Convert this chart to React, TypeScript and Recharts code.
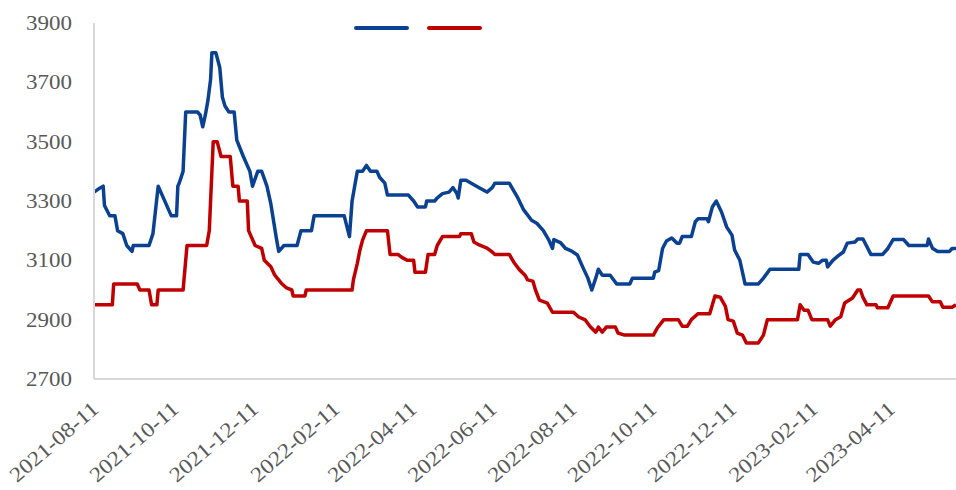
import { Line, LineChart, XAxis, YAxis } from "recharts";

const DAY_MS = 86400000;

const toDay = (date: string) => {
  const [y, m, d] = date.split("-").map(Number);
  return Date.UTC(y, m - 1, d) / DAY_MS;
};

const X_START = "2021-08-11";
const X_END = "2023-05-31";

const X_TICK_LABELS = [
  "2021-08-11",
  "2021-10-11",
  "2021-12-11",
  "2022-02-11",
  "2022-04-11",
  "2022-06-11",
  "2022-08-11",
  "2022-10-11",
  "2022-12-11",
  "2023-02-11",
  "2023-04-11",
];

const Y_TICKS = [2700, 2900, 3100, 3300, 3500, 3700, 3900];

const BLUE_POINTS: [string, number][] = [
  ["2021-08-11", 3330], ["2021-08-16", 3345], ["2021-08-18", 3350], ["2021-08-19", 3285],
  ["2021-08-23", 3250], ["2021-08-27", 3250], ["2021-08-29", 3200], ["2021-09-02", 3190],
  ["2021-09-05", 3150], ["2021-09-09", 3130], ["2021-09-10", 3150], ["2021-09-22", 3150],
  ["2021-09-25", 3190], ["2021-09-29", 3350], ["2021-10-09", 3250], ["2021-10-13", 3250],
  ["2021-10-14", 3350], ["2021-10-15", 3360], ["2021-10-18", 3400], ["2021-10-20", 3600],
  ["2021-10-29", 3600], ["2021-10-31", 3590], ["2021-11-02", 3550], ["2021-11-04", 3590],
  ["2021-11-06", 3640], ["2021-11-08", 3710], ["2021-11-09", 3800], ["2021-11-12", 3800],
  ["2021-11-15", 3750], ["2021-11-17", 3650], ["2021-11-19", 3620], ["2021-11-22", 3600],
  ["2021-11-26", 3600], ["2021-11-28", 3505], ["2021-12-03", 3450], ["2021-12-08", 3400],
  ["2021-12-10", 3350], ["2021-12-14", 3400], ["2021-12-17", 3400], ["2021-12-21", 3350],
  ["2021-12-24", 3290], ["2021-12-28", 3180], ["2021-12-30", 3130], ["2022-01-03", 3150],
  ["2022-01-13", 3150], ["2022-01-16", 3200], ["2022-01-24", 3200], ["2022-01-26", 3250],
  ["2022-02-18", 3250], ["2022-02-22", 3180], ["2022-02-24", 3300], ["2022-02-26", 3350],
  ["2022-02-28", 3400], ["2022-03-04", 3400], ["2022-03-07", 3420], ["2022-03-10", 3400],
  ["2022-03-15", 3400], ["2022-03-17", 3380], ["2022-03-21", 3360], ["2022-03-23", 3320],
  ["2022-04-08", 3320], ["2022-04-12", 3300], ["2022-04-15", 3280], ["2022-04-21", 3280],
  ["2022-04-22", 3300], ["2022-04-28", 3300], ["2022-04-30", 3310], ["2022-05-04", 3325],
  ["2022-05-09", 3330], ["2022-05-12", 3345], ["2022-05-15", 3325], ["2022-05-16", 3310],
  ["2022-05-18", 3370], ["2022-05-22", 3370], ["2022-05-26", 3360], ["2022-06-01", 3345],
  ["2022-06-07", 3330], ["2022-06-11", 3345], ["2022-06-13", 3360], ["2022-06-24", 3360],
  ["2022-06-30", 3315], ["2022-07-05", 3270], ["2022-07-11", 3235], ["2022-07-15", 3225],
  ["2022-07-20", 3200], ["2022-07-24", 3170], ["2022-07-27", 3140], ["2022-07-28", 3170],
  ["2022-08-02", 3160], ["2022-08-06", 3140], ["2022-08-11", 3130], ["2022-08-15", 3118],
  ["2022-08-19", 3078], ["2022-08-23", 3040], ["2022-08-26", 3000], ["2022-08-29", 3040],
  ["2022-08-31", 3070], ["2022-09-03", 3050], ["2022-09-09", 3050], ["2022-09-14", 3020],
  ["2022-09-24", 3020], ["2022-09-26", 3040], ["2022-10-12", 3040], ["2022-10-13", 3060],
  ["2022-10-16", 3065], ["2022-10-19", 3140], ["2022-10-22", 3165], ["2022-10-26", 3175],
  ["2022-10-30", 3158], ["2022-11-01", 3158], ["2022-11-03", 3180], ["2022-11-10", 3180],
  ["2022-11-13", 3230], ["2022-11-15", 3240], ["2022-11-22", 3240], ["2022-11-23", 3230],
  ["2022-11-26", 3280], ["2022-11-29", 3300], ["2022-12-03", 3263], ["2022-12-07", 3212],
  ["2022-12-11", 3185], ["2022-12-13", 3135], ["2022-12-17", 3100], ["2022-12-19", 3060],
  ["2022-12-21", 3020], ["2022-12-31", 3020], ["2023-01-04", 3040], ["2023-01-09", 3070],
  ["2023-01-31", 3070], ["2023-02-01", 3120], ["2023-02-07", 3120], ["2023-02-11", 3094],
  ["2023-02-15", 3090], ["2023-02-18", 3100], ["2023-02-21", 3100], ["2023-02-22", 3078],
  ["2023-02-26", 3100], ["2023-03-02", 3115], ["2023-03-06", 3128], ["2023-03-09", 3158],
  ["2023-03-15", 3162], ["2023-03-17", 3172], ["2023-03-21", 3172], ["2023-03-27", 3120],
  ["2023-04-05", 3120], ["2023-04-09", 3140], ["2023-04-13", 3170], ["2023-04-21", 3170],
  ["2023-04-25", 3150], ["2023-05-09", 3150], ["2023-05-10", 3172], ["2023-05-13", 3141],
  ["2023-05-17", 3130], ["2023-05-26", 3130], ["2023-05-28", 3140], ["2023-05-31", 3140],
];

const RED_POINTS: [string, number][] = [
  ["2021-08-11", 2950], ["2021-08-25", 2950], ["2021-08-26", 3020], ["2021-09-13", 3020],
  ["2021-09-15", 3000], ["2021-09-22", 3000], ["2021-09-24", 2950], ["2021-09-28", 2950],
  ["2021-09-29", 3000], ["2021-10-18", 3000], ["2021-10-21", 3150], ["2021-11-05", 3150],
  ["2021-11-07", 3200], ["2021-11-10", 3500], ["2021-11-13", 3500], ["2021-11-16", 3450],
  ["2021-11-23", 3450], ["2021-11-25", 3350], ["2021-11-29", 3350], ["2021-11-30", 3300],
  ["2021-12-06", 3300], ["2021-12-07", 3200], ["2021-12-12", 3150], ["2021-12-17", 3140],
  ["2021-12-19", 3100], ["2021-12-24", 3078], ["2021-12-27", 3050], ["2022-01-01", 3023],
  ["2022-01-05", 3007], ["2022-01-09", 3000], ["2022-01-10", 2980], ["2022-01-19", 2980],
  ["2022-01-20", 3000], ["2022-02-24", 3000], ["2022-02-25", 3034], ["2022-02-28", 3090],
  ["2022-03-02", 3135], ["2022-03-04", 3168], ["2022-03-07", 3200], ["2022-03-23", 3200],
  ["2022-03-25", 3120], ["2022-03-31", 3120], ["2022-04-03", 3110], ["2022-04-07", 3100],
  ["2022-04-12", 3100], ["2022-04-13", 3060], ["2022-04-21", 3060], ["2022-04-23", 3120],
  ["2022-04-28", 3120], ["2022-04-30", 3150], ["2022-05-04", 3180], ["2022-05-17", 3180],
  ["2022-05-18", 3190], ["2022-05-26", 3190], ["2022-05-28", 3162], ["2022-06-01", 3152],
  ["2022-06-07", 3141], ["2022-06-11", 3128], ["2022-06-13", 3120], ["2022-06-24", 3120],
  ["2022-06-28", 3090], ["2022-07-02", 3067], ["2022-07-06", 3050], ["2022-07-08", 3034],
  ["2022-07-12", 3030], ["2022-07-14", 3000], ["2022-07-17", 2966], ["2022-07-23", 2956],
  ["2022-07-27", 2925], ["2022-08-12", 2925], ["2022-08-16", 2909], ["2022-08-21", 2899],
  ["2022-08-25", 2875], ["2022-08-29", 2858], ["2022-08-31", 2875], ["2022-09-03", 2858],
  ["2022-09-06", 2875], ["2022-09-13", 2875], ["2022-09-15", 2855], ["2022-09-20", 2848],
  ["2022-10-12", 2848], ["2022-10-15", 2872], ["2022-10-20", 2900], ["2022-10-31", 2900],
  ["2022-11-03", 2878], ["2022-11-07", 2878], ["2022-11-10", 2900], ["2022-11-15", 2920],
  ["2022-11-24", 2920], ["2022-11-28", 2980], ["2022-12-02", 2976], ["2022-12-06", 2945],
  ["2022-12-08", 2900], ["2022-12-12", 2895], ["2022-12-15", 2855], ["2022-12-19", 2848],
  ["2022-12-22", 2821], ["2022-12-31", 2821], ["2023-01-04", 2848], ["2023-01-07", 2900],
  ["2023-01-30", 2900], ["2023-02-01", 2950], ["2023-02-04", 2932], ["2023-02-07", 2932],
  ["2023-02-10", 2900], ["2023-02-22", 2900], ["2023-02-24", 2878], ["2023-02-28", 2900],
  ["2023-03-04", 2910], ["2023-03-07", 2956], ["2023-03-13", 2973], ["2023-03-17", 3000],
  ["2023-03-19", 3000], ["2023-03-21", 2975], ["2023-03-24", 2950], ["2023-03-31", 2950],
  ["2023-04-01", 2940], ["2023-04-09", 2940], ["2023-04-13", 2980], ["2023-05-10", 2980],
  ["2023-05-13", 2960], ["2023-05-19", 2960], ["2023-05-21", 2942], ["2023-05-28", 2942],
  ["2023-05-31", 2950],
];

const BLUE = "#0b4192";
const RED = "#c00000";
const AXIS_GREY = "#d9d9d9";
const TEXT_GREY = "#595959";
const FONT = "'Liberation Serif', 'Times New Roman', serif";

const blueData = BLUE_POINTS.map(([d, v]) => ({ t: toDay(d), v }));
const redData = RED_POINTS.map(([d, v]) => ({ t: toDay(d), v }));
const xTicks = X_TICK_LABELS.map(toDay);

function DateTick({ x, y, index }: any) {
  const ax = x + 6;
  const ay = y + 30;
  return (
    <text
      x={ax}
      y={ay}
      transform={`rotate(-41 ${ax} ${ay})`}
      textAnchor="end"
      fontFamily={FONT}
      fontSize={21}
      fill={TEXT_GREY}
      textLength={110}
      lengthAdjust="spacingAndGlyphs"
    >
      {X_TICK_LABELS[index]}
    </text>
  );
}

function ValueTick({ y, payload }: any) {
  return (
    <text
      x={72}
      y={y + 7}
      textAnchor="end"
      fontFamily={FONT}
      fontSize={21}
      fill={TEXT_GREY}
      textLength={46}
      lengthAdjust="spacingAndGlyphs"
    >
      {payload.value}
    </text>
  );
}

// legend has no names in the source, only the two line swatches
function LegendLines() {
  return (
    <svg
      width={140}
      height={12}
      style={{ position: "absolute", left: 350, top: 22, display: "block" }}
    >
      <line x1={6} y1={6} x2={57} y2={6} stroke={BLUE} strokeWidth={4} strokeLinecap="round" />
      <line x1={79} y1={6} x2={130} y2={6} stroke={RED} strokeWidth={4} strokeLinecap="round" />
    </svg>
  );
}

export default function App() {
  return (
    <div style={{ position: "absolute", left: 0, top: 0, width: 956, height: 490, background: "#fff" }}>
      <LineChart
        width={956}
        height={490}
        margin={{ top: 23, right: 0, bottom: 0, left: 0 }}
      >
        <XAxis
          type="number"
          dataKey="t"
          domain={[toDay(X_START), toDay(X_END)]}
          ticks={xTicks}
          tick={<DateTick />}
          tickLine={false}
          tickSize={0}
          height={111}
          interval={0}
          axisLine={{ stroke: AXIS_GREY, strokeWidth: 2 }}
          allowDataOverflow
        />
        <YAxis
          type="number"
          domain={[2700, 3900]}
          ticks={Y_TICKS}
          tick={<ValueTick />}
          tickLine={false}
          width={94}
          interval={0}
          axisLine={{ stroke: AXIS_GREY, strokeWidth: 2 }}
        />
        <Line
          data={blueData}
          dataKey="v"
          name=""
          type="linear"
          stroke={BLUE}
          strokeWidth={3.5}
          strokeLinejoin="round"
          dot={false}
          activeDot={false}
          isAnimationActive={false}
        />
        <Line
          data={redData}
          dataKey="v"
          name=""
          type="linear"
          stroke={RED}
          strokeWidth={3.5}
          strokeLinejoin="round"
          dot={false}
          activeDot={false}
          isAnimationActive={false}
        />
      </LineChart>
      <LegendLines />
    </div>
  );
}
